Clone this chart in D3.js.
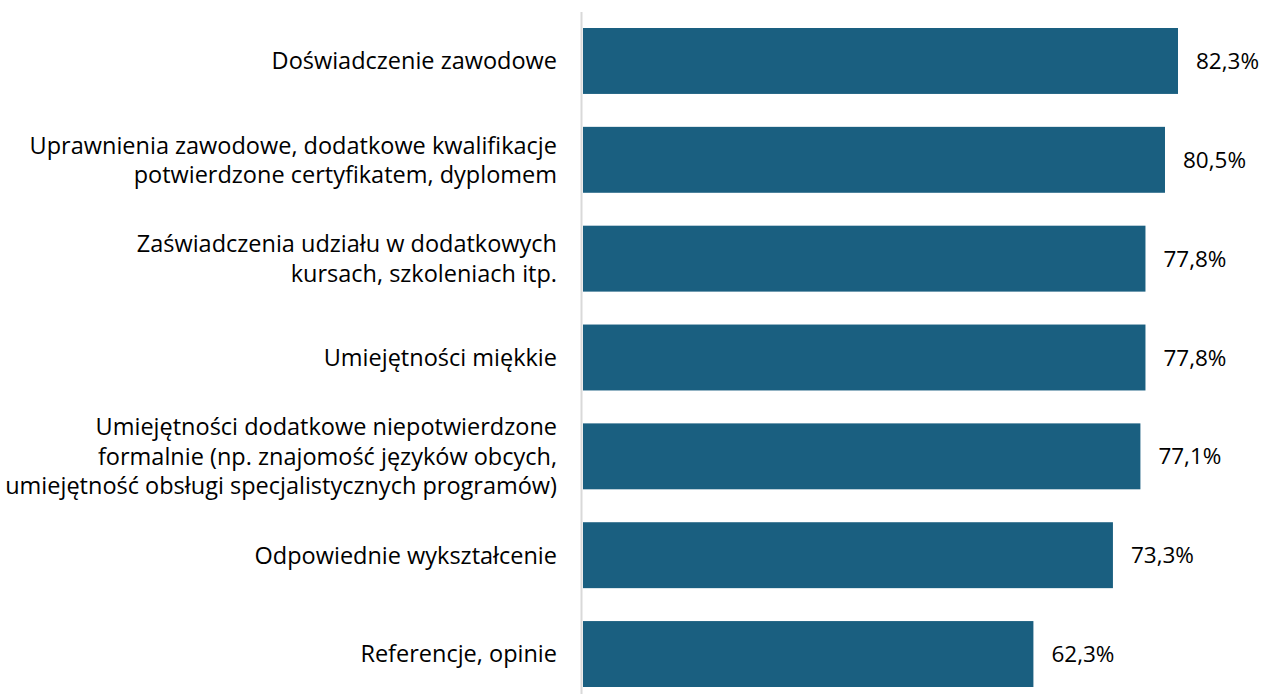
<!DOCTYPE html>
<html><head><meta charset="utf-8">
<script src="https://cdn.jsdelivr.net/npm/d3@7"></script>
<style>body{margin:0;background:#fff}svg{display:block}</style>
</head><body>
<svg id="c" width="1264" height="694"></svg>
<script>
const categories = [
  ["Doświadczenie zawodowe"],
  ["Uprawnienia zawodowe, dodatkowe kwalifikacje", "potwierdzone certyfikatem, dyplomem"],
  ["Zaświadczenia udziału w dodatkowych", "kursach, szkoleniach itp."],
  ["Umiejętności miękkie"],
  ["Umiejętności dodatkowe niepotwierdzone", "formalnie (np. znajomość języków obcych,", "umiejętność obsługi specjalistycznych programów)"],
  ["Odpowiednie wykształcenie"],
  ["Referencje, opinie"]
];
const values = [82.3, 80.5, 77.8, 77.8, 77.1, 73.3, 62.3];
const valueLabels = ["82,3%", "80,5%", "77,8%", "77,8%", "77,1%", "73,3%", "62,3%"];

const svg = d3.select("#c");
const font = "'Open Sans', sans-serif";
const ids = d3.range(values.length);
const x = d3.scaleLinear().domain([0, 82.3]).range([583, 1178]);
const y = d3.scaleBand().domain(ids).range([28, 687]).paddingInner(0.333).paddingOuter(0);

svg.selectAll("rect.bar").data(ids).enter().append("rect")
  .attr("class","bar")
  .attr("x", x(0)).attr("y", i => y(i))
  .attr("width", i => x(values[i]) - x(0))
  .attr("height", y.bandwidth())
  .attr("fill", "#1a5f80");

svg.append("line").attr("x1", 581.5).attr("x2", 581.5).attr("y1", 12).attr("y2", 694)
  .attr("stroke", "#d9d9d9").attr("stroke-width", 2);

svg.selectAll("text.val").data(ids).enter().append("text")
  .attr("class","val")
  .attr("x", i => x(values[i]) + 18)
  .attr("y", i => y(i) + y.bandwidth()/2)
  .attr("dy", "0.36em")
  .attr("font-family", font).attr("font-size", 22.5).attr("fill", "#000")
  .text(i => valueLabels[i]);

const lh = 29.5;
ids.forEach(i => {
  const lines = categories[i];
  const cy = y(i) + y.bandwidth()/2;
  const t = svg.append("text").attr("text-anchor","end")
    .attr("font-family", font).attr("font-size", 23.5).attr("fill", "#000");
  lines.forEach((l, k) => {
    t.append("tspan").attr("x", 557)
      .attr("y", cy + (k - (lines.length-1)/2) * lh)
      .attr("dy", "0.36em").text(l);
  });
});
</script>
</body></html>
